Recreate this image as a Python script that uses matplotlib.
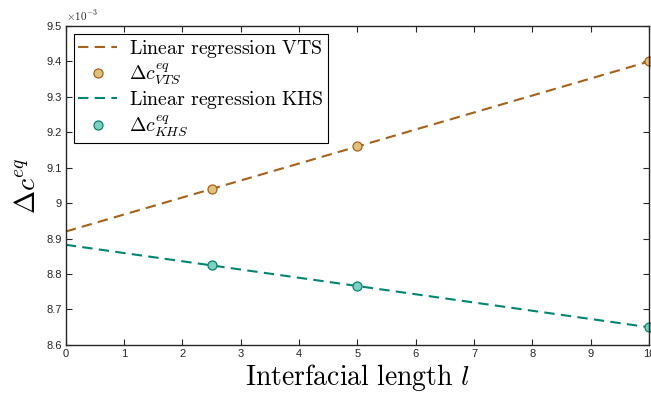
'''
Delta c^eq versus interfacial length, VTS and KHS with linear fits
'''
import numpy as np
import matplotlib
matplotlib.use('Agg')
import matplotlib.pyplot as plt
from matplotlib.ticker import FuncFormatter, MultipleLocator

plt.rcParams['mathtext.fontset'] = 'cm'
plt.rcParams['font.family'] = ['Liberation Sans', 'DejaVu Sans']

lengths = [2.5, 5, 10]
dc_vts = [9.04e-3, 9.16e-3, 9.40e-3]
dc_khs = [8.825e-3, 8.765e-3, 8.65e-3]

fit_x = [0, 10]

vts_line = '#a6611a'
vts_fill = '#dfc27d'
khs_line = '#018571'
khs_fill = '#80cdc1'
axis_col = '#262626'


def fit_line(x, y):
    p = np.polyfit(x, y, 1)
    return np.polyval(p, fit_x)


fig = plt.figure(figsize=(6.51, 3.95), dpi=100)
ax = fig.add_axes([0.101, 0.127, 0.896, 0.807])

ax.plot(fit_x, fit_line(lengths, dc_vts), '--', color=vts_line, lw=1.5,
        dashes=(5, 3), label=r'$\mathrm{Linear\ regression\ VTS}$')
ax.plot(lengths, dc_vts, 'o', ms=6.5, mfc=vts_fill, mec=vts_line, mew=0.9,
        clip_on=False, label=r'$\Delta c^{eq}_{VTS}$')
ax.plot(fit_x, fit_line(lengths, dc_khs), '--', color=khs_line, lw=1.5,
        dashes=(5, 3), label=r'$\mathrm{Linear\ regression\ KHS}$')
ax.plot(lengths, dc_khs, 'o', ms=6.5, mfc=khs_fill, mec=khs_line, mew=0.9,
        clip_on=False, label=r'$\Delta c^{eq}_{KHS}$')

ax.set_xlim(0, 10)
ax.set_ylim(8.6e-3, 9.5e-3)
ax.xaxis.set_major_locator(MultipleLocator(1))
ax.yaxis.set_major_locator(MultipleLocator(0.1e-3))
ax.yaxis.set_major_formatter(FuncFormatter(lambda v, pos: '%g' % round(v * 1e3, 3)))

ax.tick_params(direction='in', top=True, right=True, length=4, width=0.8,
               labelsize=8, colors=axis_col, pad=3)
for s in ax.spines.values():
    s.set_color(axis_col)
    s.set_linewidth(1.0)

ax.text(0.0, 1.01, r'$\times10^{-3}$', transform=ax.transAxes, fontsize=8,
        color=axis_col, ha='left', va='bottom')

ax.set_xlabel(r'$\mathrm{Interfacial\ length}\ l$', fontsize=20, labelpad=2)
ax.set_ylabel(r'$\Delta c^{eq}$', fontsize=20, labelpad=4)

leg = ax.legend(loc='upper left', fontsize=14.3, frameon=True, fancybox=False,
                borderaxespad=0.4, handlelength=2.0, labelspacing=0.1,
                borderpad=0.2, handletextpad=0.6)
leg.get_frame().set_edgecolor('black')
leg.get_frame().set_linewidth(0.8)
leg.get_frame().set_alpha(1)

fig.savefig('out.png', dpi=100)
